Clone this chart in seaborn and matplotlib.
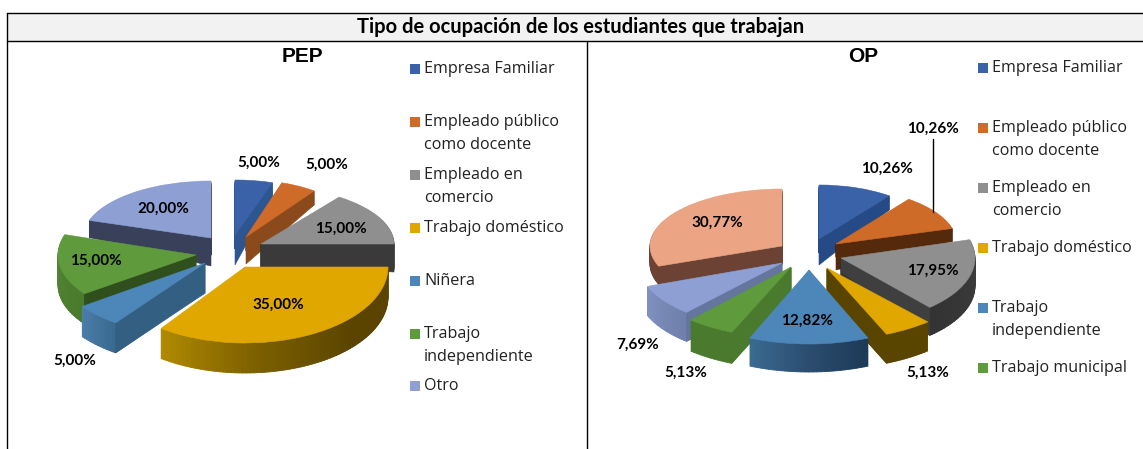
import numpy as np
import matplotlib
matplotlib.use("Agg")
import matplotlib.pyplot as plt
from matplotlib.patches import Rectangle
from matplotlib.transforms import Affine2D
import seaborn as sns

sns.set_theme(style="white")
W, H = 1143, 449

# ---------- data ----------
TITLE = "Tipo de ocupación de los estudiantes que trabajan"
PEP_VALUES = [5.00, 5.00, 15.00, 35.00, 5.00, 15.00, 20.00]
OP_VALUES = [10.26, 10.26, 17.95, 5.13, 12.82, 5.13, 7.69, 30.77]
PEP_LEGEND = ["Empresa Familiar", "Empleado público\ncomo docente", "Empleado en\ncomercio",
              "Trabajo doméstico", "Niñera", "Trabajo\nindependiente", "Otro"]
OP_LEGEND = ["Empresa Familiar", "Empleado público\ncomo docente", "Empleado en\ncomercio",
             "Trabajo doméstico", "Trabajo\nindependiente", "Trabajo municipal"]
PEP_COLORS = ["#3a62a8", "#cf6b28", "#8f8f8f", "#e0a700", "#4d87ba", "#5f9a3c", "#8d9fd3"]
OP_COLORS = ["#3a62a8", "#cf6b28", "#8f8f8f", "#e0a700", "#4d87ba", "#5f9a3c", "#8d9fd3", "#eba584"]

# ---------- layout (pixels) ----------
# apex x, apex y, rx, ry, side depth
PEP_GEOM = [(235, 235, 121, 55, 14), (246, 237, 116, 57, 14), (261, 244, 133, 58, 26),
            (245, 267, 143, 76, 30), (205, 263, 152, 74, 30), (196, 255, 138, 66, 30), (211, 238, 128, 57, 17)]
OP_GEOM = [(819, 239, 117, 54, 14), (836, 244, 121, 56, 13), (841, 258, 134, 66, 28),
           (827, 268, 152, 72, 29), (809, 270, 151, 74, 28), (791, 267, 151, 71, 31),
           (782, 263, 144, 66, 29), (782, 246, 132, 57, 18)]
# radial face: edge, colour, depth at apex, depth at rim
PEP_FACE = [("end", "#2d5590", 30, 14), ("end", "#8a4a1c", 27, 14), ("end", "#3a3a3a", 22, 28), None,
            ("start", "#335f82", 29, 30), ("start", "#2f4f1c", 30, 30), ("start", "#38405a", 28, 17)]
OP_FACE = [("end", "#264a85", 26, 14), ("end", "#552a0c", 26, 13), ("end", "#3f3f3f", 14, 28),
           ("end", "#5a4500", 29, 29), None, ("start", "#4a7a2d", 26, 31),
           ("start", "#64759e", 29, 29), ("start", "#6b4233", 18, 18)]
PEP_ARC = [["#2d5590"], ["#8a4a1c"], ["#3a3a3a"], ["#5a4400", "#5a4400", "#7a5e00", "#b08a00"],
           ["#3a6a90", "#4a7da8"], ["#4a7a2d", "#568a34"], ["#38405a"]]
OP_ARC = [["#264a85"], ["#552a0c"], ["#3f3f3f", "#333333"], ["#5a4500"],
          ["#1d3a58", "#2c4d70", "#3a6a90"], ["#4a7a2d"], ["#6f80ad", "#8090bf"], ["#6b4233"]]
PEP_ORDER = [6, 0, 1, 2, 5, 4, 3]
OP_ORDER = [7, 0, 1, 2, 6, 5, 3, 4]
PEP_LABEL_XY = [(259, 163), (327, 165), (341, 229), (278, 305), (75, 361), (96, 261), (163, 209)]
OP_LABEL_XY = [(887, 169), (933, 129), (933, 271), (928, 373), (807, 321), (686, 373), (638, 345), (717, 223)]
PEP_LEG_Y = [69, 122, 175, 228, 281, 334, 386]
OP_LEG_Y = [68, 128, 188, 248, 308, 368]

fig = plt.figure(figsize=(W / 100, H / 100), dpi=100)
ax = fig.add_axes([0, 0, 1, 1])


def place(w, x, y, rx, ry):
    w.set_transform(Affine2D().scale(1, ry / rx).translate(x, H - y) + ax.transData)


def draw_slice(start, value, total, color, geom, face, arc):
    x, y, rx, ry, depth = geom
    n = max(6, int(value / total * 360 / 1.5))
    shades = sns.blend_palette(arc if len(arc) > 1 else arc * 2, n)
    # extruded rim, one pie per pixel of depth
    for d in range(depth, 0, -1):
        wedges, _ = ax.pie([value / n] * n + [total - value], startangle=90 - start, counterclock=False,
                           radius=rx, colors=list(shades) + ["none"], wedgeprops=dict(linewidth=0))
        wedges[-1].remove()
        for w, c in zip(wedges[:-1], shades):
            w.set_edgecolor(c)
            w.set_linewidth(0.6)
            place(w, x, y + d, rx, ry)
    # visible cut face of the slice
    if face is not None:
        edge, fc, d_in, d_out = face
        ang = np.radians(start if edge == "start" else start + value / total * 360)
        ex, ey = x + rx * np.sin(ang), y - ry * np.cos(ang)
        ax.fill([x, ex, ex, x], [H - y, H - ey, H - ey - d_out, H - y - d_in], color=fc, lw=0.4)
    # top face
    wedges, _ = ax.pie([value, total - value], startangle=90 - start, counterclock=False, radius=rx,
                       colors=[color, "none"], wedgeprops=dict(linewidth=0))
    wedges[-1].remove()
    wedges[0].set_edgecolor(color)
    wedges[0].set_linewidth(0.4)
    place(wedges[0], x, y, rx, ry)


def draw_pie(values, colors, geoms, faces, arcs, order):
    total = sum(values)
    starts = np.concatenate([[0], np.cumsum(values)[:-1]]) / total * 360
    for i in order:
        draw_slice(starts[i], values[i], total, colors[i], geoms[i], faces[i], arcs[i])


draw_pie(PEP_VALUES, sns.color_palette(PEP_COLORS), PEP_GEOM, PEP_FACE, PEP_ARC, PEP_ORDER)
draw_pie(OP_VALUES, sns.color_palette(OP_COLORS), OP_GEOM, OP_FACE, OP_ARC, OP_ORDER)

ax.set_aspect("auto")
ax.set_xlim(0, W)
ax.set_ylim(0, H)
ax.set_frame_on(False)
ax.set_xticks([])
ax.set_yticks([])


def fmt(v):
    return f"{v:.2f}%".replace(".", ",")


for vals, xy in ((PEP_VALUES, PEP_LABEL_XY), (OP_VALUES, OP_LABEL_XY)):
    for v, (lx, ly) in zip(vals, xy):
        ax.text(lx, H - ly, fmt(v), ha="center", va="center", fontsize=11, fontweight="bold",
                family="Lato", color="black", zorder=10)
ax.plot([933, 933], [H - 139, H - 212], color="black", lw=1, zorder=10)

# legends
for labels, ys, colors, sx, tx in ((PEP_LEGEND, PEP_LEG_Y, PEP_COLORS, 410, 424),
                                   (OP_LEGEND, OP_LEG_Y, OP_COLORS, 978, 992)):
    for lab, ly, c in zip(labels, ys, colors):
        ax.add_patch(Rectangle((sx, H - ly - 5), 9.5, 10, color=c, lw=0, zorder=10))
        for k, part in enumerate(lab.split("\n")):
            ax.text(tx, H - ly - 23 * k, part, ha="left", va="center", fontsize=11.6,
                    family="Open Sans", color="#222222", zorder=10)

# panel titles
ax.text(302, H - 57, "PEP", ha="center", va="center", fontsize=15, fontweight="bold",
        family="Liberation Sans", color="black", zorder=10)
ax.text(863, H - 57, "OP", ha="center", va="center", fontsize=15, fontweight="bold",
        family="Liberation Sans", color="black", zorder=10)

# header band and frame
ax.add_patch(Rectangle((7, H - 41), W - 7, 28, facecolor="#f2f2f2", edgecolor="none", zorder=9))
ax.plot([7, W], [H - 13, H - 13], color="black", lw=1, zorder=10)
ax.plot([7, W], [H - 41, H - 41], color="black", lw=1, zorder=10)
ax.plot([7, 7], [H - 13, 0], color="black", lw=1, zorder=10)
ax.plot([587, 587], [H - 41, 0], color="black", lw=1, zorder=10)
ax.text(581, H - 27, TITLE, ha="center", va="center", fontsize=14.5, fontweight="bold",
        family="Lato", color="black", zorder=11)

fig.savefig("out.png", dpi=100, facecolor="white")
